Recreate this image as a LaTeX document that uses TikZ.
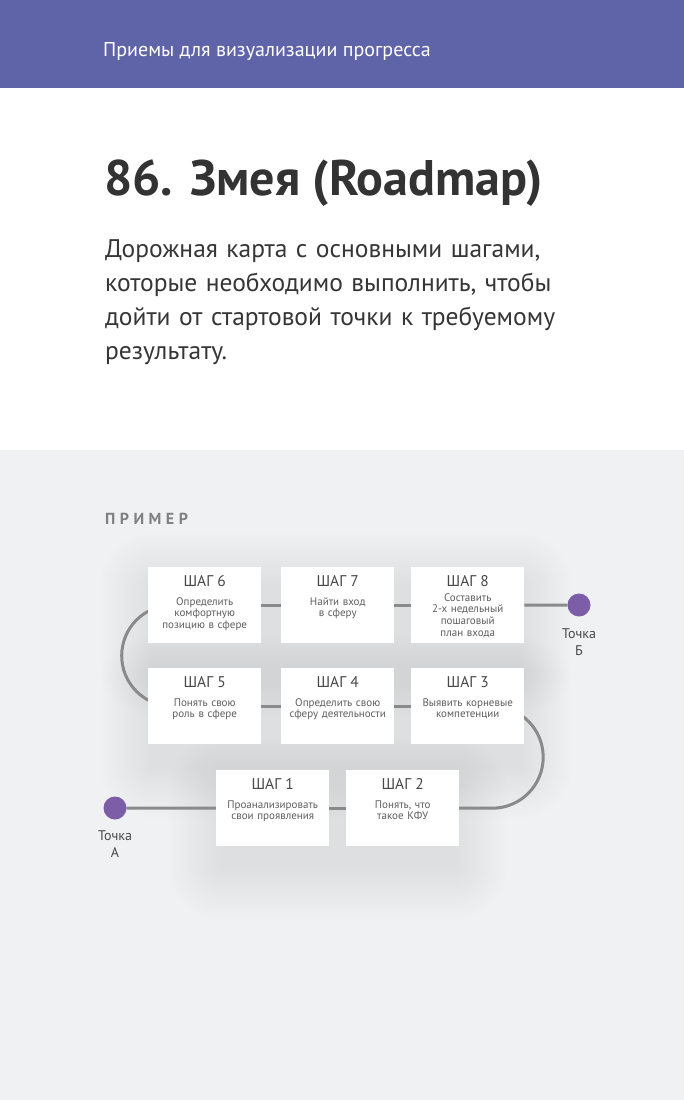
\documentclass[tikz,border=0pt]{standalone}
\usepackage{fontspec}
\setmainfont{PT Sans}
\definecolor{hdr}{HTML}{5F63A8}
\definecolor{bggray}{HTML}{F0F1F3}
\definecolor{dotc}{HTML}{7B5EA7}
\definecolor{linec}{HTML}{8A8A8A}
\definecolor{titlec}{HTML}{333333}
\definecolor{descc}{HTML}{363636}
\definecolor{headc}{HTML}{484848}
\definecolor{bodyc}{HTML}{5E5E5E}
\definecolor{exc}{HTML}{808080}
\pgfdeclarelayer{bg}
\pgfsetlayers{bg,main}
\newcommand\mkstep[6]{%
  \node[stepbox, anchor=north west] (#1) at (#2,#3) {};
  \node[headtxt, anchor=base] (#1h) at ([yshift=-19pt]#1.north) {#4};
  \node[bodytxt, anchor=base] (#1b) at ([yshift=-#5pt]#1.north) {#6};
}
\newcommand\rowshadow[2]{%
  \foreach \i in {1,...,18}{%
    \fill[black, opacity=0.0055, rounded corners=3*\i pt]
      ([shift={(-3*\i+6,-3*\i+20)}]#1.north west) rectangle ([shift={(3*\i-6,3*\i+20)}]#2.south east);
  }%
}
\begin{document}
\begin{tikzpicture}[x=1pt,y=-1pt,
  stepbox/.style={fill=white, minimum width=113pt, minimum height=76pt, inner sep=0pt},
  headtxt/.style={inner sep=0pt, text=headc, font=\fontsize{15.5}{17}\selectfont},
  bodytxt/.style={inner sep=0pt, text=bodyc, text width=112pt, align=center, font=\fontsize{11}{11.8}\selectfont},
  conn/.style={draw=linec, line width=3pt},
  dot/.style={circle, fill=dotc, minimum size=23pt, inner sep=0pt},
  ptlbl/.style={inner sep=0pt, text=headc, text width=60pt, align=center, font=\fontsize{14}{17.5}\selectfont}]
\useasboundingbox (0,0) rectangle (684,1100);
\begin{pgfonlayer}{bg}
  \fill[white] (0,0) rectangle (684,450);
  \fill[bggray] (0,450) rectangle (684,1100);
  \fill[hdr] (0,0) rectangle (684,88);
\end{pgfonlayer}
\node[anchor=base west, inner sep=0pt, text=white, font=\fontsize{20}{24}\selectfont] (hdrtxt) at (103,56) {Приемы для визуализации прогресса};
\node[anchor=base west, inner sep=0pt, text=titlec, font=\fontsize{50}{54}\selectfont\bfseries] (title) at (104,195) {86. Змея (Roadmap)};
\node[anchor=base west, inner sep=0pt, text=descc, text width=540pt, align=left, font=\fontsize{25.5}{34}\selectfont] (desc) at (105,257) {Дорожная карта с основными шагами,\\которые необходимо выполнить, чтобы\\дойти от стартовой точки к требуемому\\результату.};
\node[anchor=base west, inner sep=0pt, text=exc, font=\fontsize{16}{18}\selectfont\bfseries\addfontfeature{LetterSpace=28}] (ex) at (105,524) {ПРИМЕР};

\mkstep{b6}{148}{567}{ШАГ 6}{38}{Определить\\комфортную\\позицию в сфере}
\mkstep{b7}{281}{567}{ШАГ 7}{38}{Найти вход\\в сферу}
\mkstep{b8}{411}{567}{ШАГ 8}{34}{Составить\\2-х недельный\\пошаговый\\план входа}
\mkstep{b5}{148}{668}{ШАГ 5}{38}{Понять свою\\роль в сфере}
\mkstep{b4}{281}{668}{ШАГ 4}{38}{Определить свою\\сферу деятельности}
\mkstep{b3}{411}{668}{ШАГ 3}{38}{Выявить корневые\\компетенции}
\mkstep{b1}{216}{770}{ШАГ 1}{38}{Проанализировать\\свои проявления}
\mkstep{b2}{346}{770}{ШАГ 2}{38}{Понять, что\\такое КФУ}

\node[dot] (dA) at (115,808) {};
\node[dot] (dB) at (579,605) {};
\node[ptlbl, anchor=base] (lA) at (115,840) {Точка\\А};
\node[ptlbl, anchor=base] (lB) at (579,638) {Точка\\Б};

\begin{pgfonlayer}{bg}
  \rowshadow{b6}{b8}
  \rowshadow{b5}{b3}
  \rowshadow{b1}{b2}
  \draw[conn] (b6) -- (b7);
  \draw[conn] (b7) -- (b8);
  \draw[conn] (b8) -- (dB);
  \draw[conn] (b5) -- (b4);
  \draw[conn] (b4) -- (b3);
  \draw[conn] (dA) -- (b1);
  \draw[conn] (b1) -- (b2);
  \draw[conn] (b6.center) -- ++(-32.5,0) .. controls +(-27.9,0) and +(0,-27.9) .. ++(-50.5,50.5) .. controls +(0,27.9) and +(-27.9,0) .. ++(50.5,50.5) -- (b5.center);
  \draw[conn] (b3.center) -- ++(24.5,0) .. controls +(28.2,0) and +(0,-28.2) .. ++(51,51) .. controls +(0,28.2) and +(28.2,0) .. ++(-51,51) -- (b2.center);
\end{pgfonlayer}
\end{tikzpicture}
\end{document}
